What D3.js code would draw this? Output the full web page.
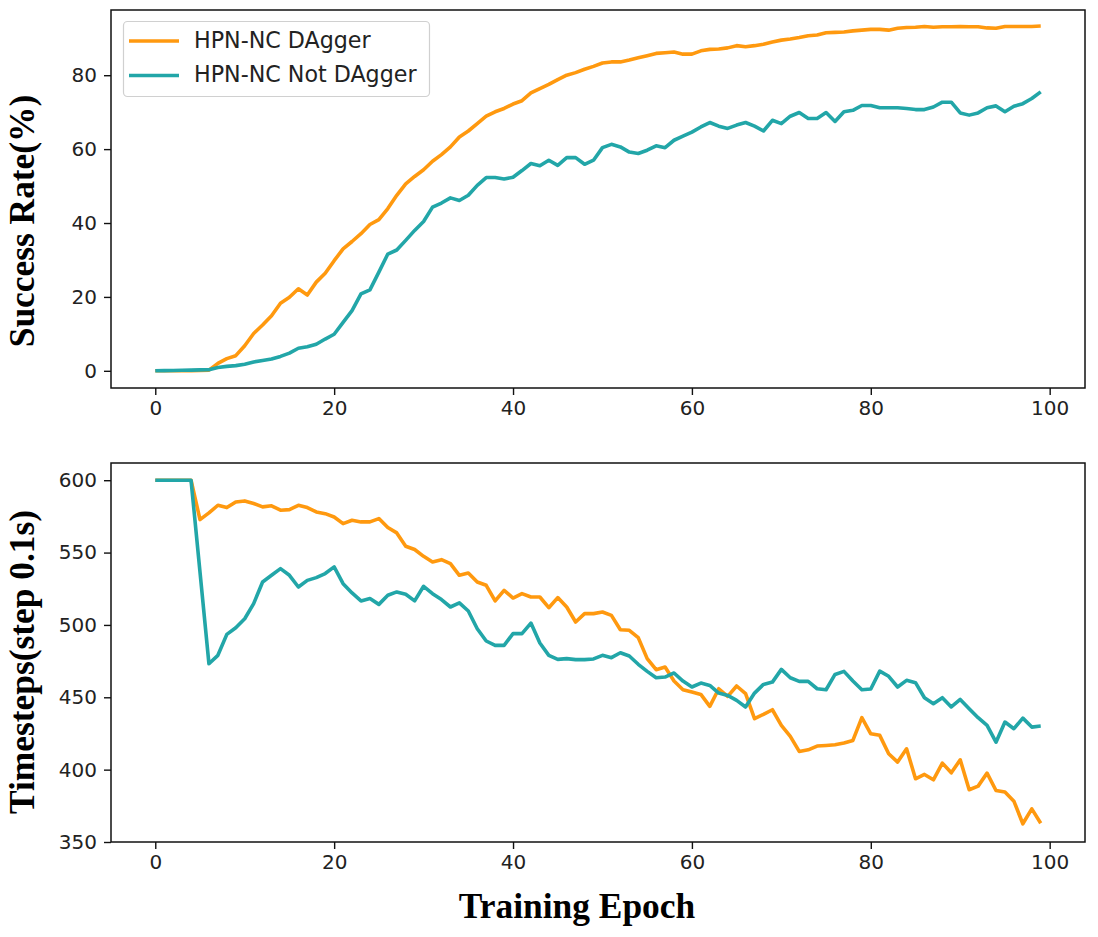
<!DOCTYPE html>
<html>
<head>
<meta charset="utf-8">
<script src="https://cdn.jsdelivr.net/npm/d3@7"></script>
<style>
  html, body { margin: 0; padding: 0; background: #fff; }
  svg { display: block; }
  .tick text { font-family: "DejaVu Sans", sans-serif; font-size: 20px; fill: #222; }
</style>
</head>
<body>
<svg id="chart" width="1098" height="937"></svg>
<script>
// ---------- data ----------
const epochs = d3.range(0, 100);
const seriesNames = ["HPN-NC DAgger", "HPN-NC Not DAgger"];
const seriesColors = ["#ff990f", "#22a6a8"];

const successDagger = [
  0, 0, 0, 0, 0, 0.1, 0.2, 2.0, 3.3, 4.1,
  6.8, 10.1, 12.4, 14.9, 18.3, 19.9, 22.2, 20.5, 24.0, 26.4,
  29.8, 33.0, 35.0, 37.1, 39.6, 40.9, 43.9, 47.5, 50.6, 52.6,
  54.4, 56.7, 58.5, 60.6, 63.3, 64.9, 66.9, 68.9, 70.1, 71.0,
  72.2, 73.1, 75.2, 76.4, 77.5, 78.8, 80.0, 80.7, 81.6, 82.4,
  83.3, 83.6, 83.6, 84.1, 84.7, 85.3, 85.9, 86.1, 86.3, 85.7,
  85.7, 86.6, 87.0, 87.1, 87.4, 88.0, 87.7, 88.0, 88.4, 89.0,
  89.5, 89.8, 90.2, 90.7, 90.9, 91.5, 91.6, 91.7, 92.0, 92.2,
  92.4, 92.4, 92.2, 92.7, 92.9, 93.0, 93.2, 93.0, 93.1, 93.1,
  93.2, 93.1, 93.1, 92.8, 92.7, 93.2, 93.2, 93.2, 93.2, 93.3
];
const successNoDagger = [
  0, 0.05, 0.1, 0.15, 0.2, 0.25, 0.3, 0.9, 1.2, 1.4,
  1.8, 2.4, 2.8, 3.2, 3.9, 4.8, 6.1, 6.5, 7.2, 8.6,
  9.9, 13.1, 16.3, 20.8, 21.9, 26.7, 31.6, 32.7, 35.3, 38.0,
  40.4, 44.3, 45.4, 46.8, 46.1, 47.5, 50.2, 52.3, 52.3, 51.9,
  52.4, 54.2, 56.1, 55.5, 57.0, 55.6, 57.7, 57.7, 55.9, 57.0,
  60.4, 61.3, 60.6, 59.2, 58.8, 59.7, 60.9, 60.4, 62.4, 63.5,
  64.6, 66.0, 67.2, 66.2, 65.6, 66.5, 67.2, 66.2, 64.9, 67.8,
  66.9, 68.9, 69.9, 68.3, 68.3, 69.9, 67.5, 70.1, 70.5, 71.8,
  71.8, 71.2, 71.2, 71.2, 71.0, 70.7, 70.7, 71.4, 72.7, 72.7,
  69.8, 69.2, 69.8, 71.2, 71.7, 70.1, 71.6, 72.3, 73.7, 75.5
];
const stepsDagger = [
  600, 600, 600, 600, 600, 572.8, 577.4, 582.7, 581.1, 585.0,
  585.7, 583.9, 581.6, 582.3, 579.3, 579.7, 582.7, 581.1, 578.1, 576.9,
  574.6, 570.0, 572.3, 571.2, 571.2, 573.5, 567.3, 563.6, 554.4, 552.1,
  547.4, 543.5, 545.1, 542.4, 534.3, 535.9, 529.7, 527.4, 516.6, 523.9,
  518.6, 521.6, 519.3, 519.3, 511.9, 518.9, 512.4, 502.0, 507.8, 507.8,
  508.9, 506.6, 496.7, 496.3, 491.2, 476.7, 469.1, 470.9, 461.2, 455.2,
  453.6, 452.0, 443.7, 455.9, 450.6, 457.8, 452.5, 435.2, 438.2, 441.4,
  430.6, 423.0, 412.6, 413.7, 416.3, 416.7, 417.2, 418.4, 420.2, 435.9,
  424.8, 423.7, 411.0, 405.2, 414.4, 393.7, 396.7, 393.0, 404.5, 397.8,
  406.8, 386.1, 388.6, 397.6, 385.6, 384.5, 378.2, 362.6, 372.9, 363.0
];
const stepsNoDagger = [
  600, 600, 600, 600, 600, 536.6, 473.2, 479.0, 493.5, 498.1,
  504.3, 514.7, 529.7, 534.3, 538.9, 534.3, 526.2, 530.8, 532.7, 535.5,
  540.1, 528.5, 522.1, 516.6, 518.2, 514.2, 520.5, 522.8, 521.2, 516.6,
  526.7, 521.6, 517.5, 512.4, 515.2, 509.6, 497.4, 488.9, 485.9, 485.9,
  494.0, 494.0, 501.3, 487.5, 479.0, 476.2, 476.7, 476.0, 476.0, 476.5,
  479.0, 477.4, 480.8, 478.5, 472.8, 467.9, 463.5, 464.0, 466.8, 461.2,
  457.1, 459.8, 458.2, 452.9, 451.3, 447.9, 443.3, 452.9, 458.9, 460.5,
  469.3, 463.5, 461.0, 461.0, 455.9, 455.2, 465.8, 467.9, 461.2, 455.2,
  455.7, 468.1, 464.5, 457.1, 461.7, 460.1, 449.7, 445.6, 449.7, 443.3,
  448.5, 442.1, 435.9, 430.6, 419.0, 432.9, 428.3, 435.6, 429.4, 430.1
];
const xTicks = [0, 20, 40, 60, 80, 100];
const topYTicks = [0, 20, 40, 60, 80];
const bottomYTicks = [350, 400, 450, 500, 550, 600];
const topYLabel = "Success Rate(%)";
const bottomYLabel = "Timesteps(step 0.1s)";
const xLabel = "Training Epoch";

// ---------- drawing ----------
const svg = d3.select("#chart");
const left = 111, right = 1085;
const panels = [
  { top: 10, bottom: 388, domain: [-4.65, 97.65], ticks: topYTicks,
    series: [successDagger, successNoDagger], label: topYLabel, labelY: 221, legend: true },
  { top: 463, bottom: 842, domain: [350, 611.9], ticks: bottomYTicks,
    series: [stepsDagger, stepsNoDagger], label: bottomYLabel, labelY: 662, legend: false }
];

const x = d3.scaleLinear().domain([-4.95, 103.95]).range([left, right]);

panels.forEach((p, pi) => {
  const y = d3.scaleLinear().domain(p.domain).range([p.bottom, p.top]);
  const g = svg.append("g");

  const clipId = "clip" + pi;
  svg.append("clipPath").attr("id", clipId)
    .append("rect").attr("x", left).attr("y", p.top)
    .attr("width", right - left).attr("height", p.bottom - p.top);

  const line = d3.line().x((d, i) => x(epochs[i])).y(d => y(d));
  p.series.forEach((s, si) => {
    g.append("path")
      .datum(s)
      .attr("clip-path", `url(#${clipId})`)
      .attr("fill", "none")
      .attr("stroke", seriesColors[si])
      .attr("stroke-width", 3.6)
      .attr("stroke-linejoin", "round")
      .attr("stroke-linecap", "butt")
      .attr("d", line);
  });

  // axes
  const xAxis = d3.axisBottom(x).tickValues(xTicks).tickFormat(d3.format("d"))
    .tickSize(7).tickPadding(6);
  const gx = svg.append("g").attr("transform", `translate(0,${p.bottom})`).call(xAxis);
  gx.select(".domain").remove();
  gx.selectAll(".tick line").attr("stroke", "#111").attr("stroke-width", 1.4);

  const yAxis = d3.axisLeft(y).tickValues(p.ticks).tickFormat(d3.format("d"))
    .tickSize(7).tickPadding(7);
  const gy = svg.append("g").attr("transform", `translate(${left},0)`).call(yAxis);
  gy.select(".domain").remove();
  gy.selectAll(".tick line").attr("stroke", "#111").attr("stroke-width", 1.4);

  // frame
  svg.append("rect")
    .attr("x", left).attr("y", p.top)
    .attr("width", right - left).attr("height", p.bottom - p.top)
    .attr("fill", "none").attr("stroke", "#111").attr("stroke-width", 1.5);

  // y label
  svg.append("text")
    .attr("transform", `translate(34,${p.labelY}) rotate(-90)`)
    .attr("text-anchor", "middle")
    .attr("font-family", "'Liberation Serif', 'Times New Roman', serif")
    .attr("font-weight", "bold")
    .attr("font-size", 35.4)
    .attr("fill", "#000")
    .text(p.label);

  if (p.legend) {
    const lg = svg.append("g");
    lg.append("rect")
      .attr("x", 123.5).attr("y", 21.5).attr("width", 306).attr("height", 75)
      .attr("rx", 4).attr("ry", 4)
      .attr("fill", "#fff").attr("fill-opacity", 0.8)
      .attr("stroke", "#d0d0d0").attr("stroke-width", 1.2);
    seriesNames.forEach((name, si) => {
      const ly = 41 + si * 34.5;
      lg.append("line")
        .attr("x1", 129).attr("x2", 179).attr("y1", ly).attr("y2", ly)
        .attr("stroke", seriesColors[si]).attr("stroke-width", 3.6);
      lg.append("text")
        .attr("x", 194).attr("y", ly + 6.5)
        .attr("font-family", "'DejaVu Sans', sans-serif")
        .attr("font-size", 22.2)
        .attr("fill", "#222")
        .text(name);
    });
  }
});

// x label
svg.append("text")
  .attr("x", 577).attr("y", 918)
  .attr("text-anchor", "middle")
  .attr("font-family", "'Liberation Serif', 'Times New Roman', serif")
  .attr("font-weight", "bold")
  .attr("font-size", 35.4)
  .attr("fill", "#000")
  .text(xLabel);
</script>
</body>
</html>
